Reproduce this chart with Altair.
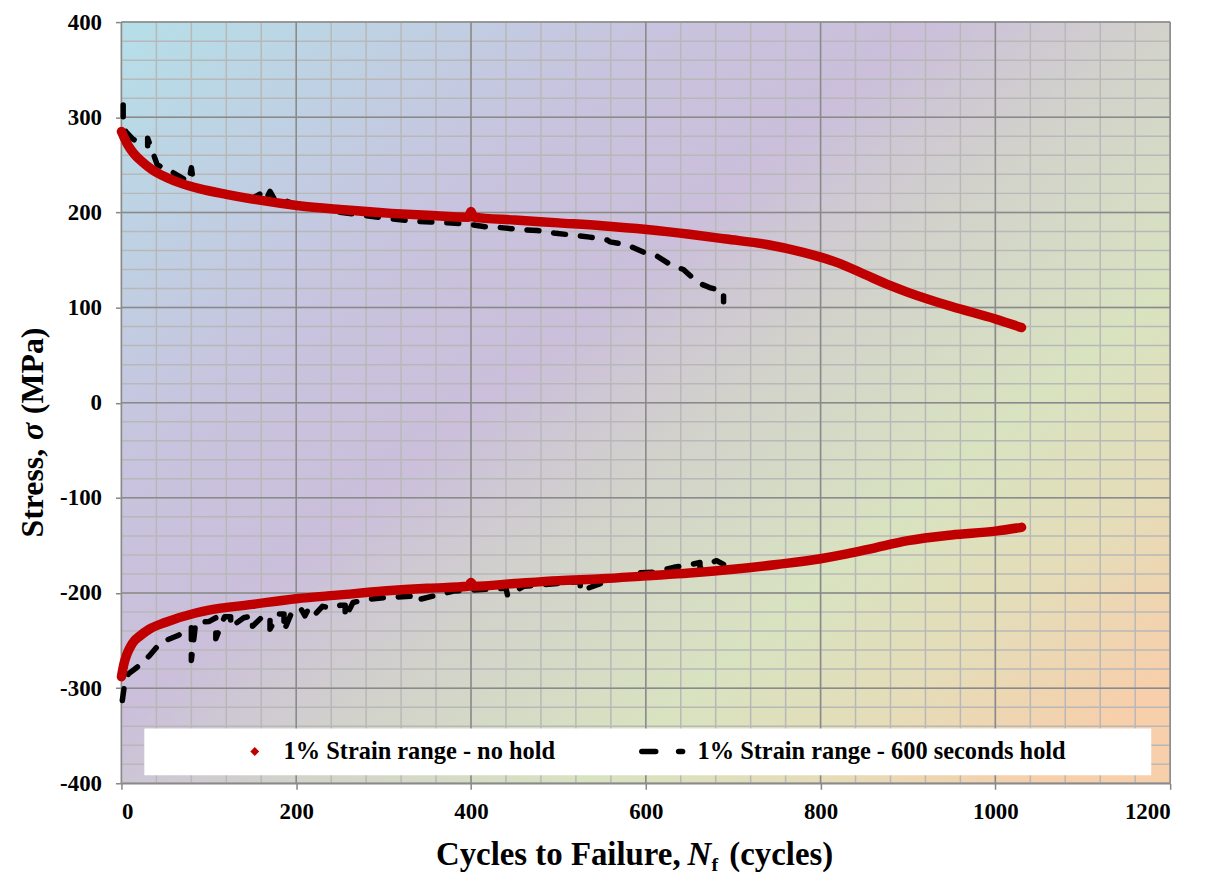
import altair as alt
import pandas as pd

# ---------------- data ----------------
red_up_x = [0, 3, 6, 10, 15, 24, 35, 51, 70, 89, 120, 150, 203, 250, 309, 350, 397, 400, 403, 450, 500, 550, 601, 650, 692, 740, 780, 800, 820, 850, 880, 900, 950, 1000, 1030]
red_up_y = [285, 279, 273, 267, 261, 253, 245, 237, 230, 225, 219, 214, 207, 203, 199, 197, 195, 201, 195, 192, 189, 186, 182, 177, 172, 166, 158, 153, 147, 135, 123, 116, 101, 88, 79]

red_lo_x = [0, 3, 6, 10, 15, 20, 32, 50, 85, 100, 150, 200, 250, 300, 350, 397, 400, 403, 450, 500, 550, 600, 650, 700, 750, 800, 830, 860, 900, 950, 1000, 1030]
red_lo_y = [-288, -274, -265, -257, -250, -246, -238, -231, -221, -218, -212, -206, -202, -198, -195, -193, -189, -193, -190, -187, -185, -182, -179, -175, -170, -164, -159, -153, -145, -139, -135, -131]

blk_up_x = [2, 2, 5, 13, 22, 30, 30, 41, 57, 77, 80, 83, 100, 130, 150, 160, 165, 170, 175, 180, 200, 250, 294, 331, 354, 373, 394, 416, 434, 455, 476, 497, 518, 536, 556, 559, 578, 598, 613, 630, 643, 660, 673, 689, 689]
blk_up_y = [313, 295, 285, 277, 273, 270, 278, 250, 243, 232, 247, 228, 221, 217, 215, 220, 213, 222, 214, 215, 208, 200, 195, 191, 190, 189, 188, 185, 184, 182, 181, 178, 176, 174, 171, 169, 166, 158, 154, 144, 140, 126, 121, 117, 106]

blk_lo_x = [1, 3, 8, 18, 25, 32, 45, 64, 78, 80, 80, 85, 100, 108, 108, 118, 125, 125, 140, 150, 150, 160, 170, 170, 180, 186, 186, 195, 205, 210, 215, 222, 230, 240, 250, 256, 256, 265, 280, 300, 340, 340, 380, 420, 440, 442, 460, 500, 525, 525, 560, 590, 609, 632, 647, 662, 662, 681, 689]
blk_lo_y = [-313, -300, -285, -278, -272, -266, -252, -245, -238, -236, -271, -231, -230, -226, -248, -225, -225, -236, -226, -224, -235, -226, -224, -238, -222, -222, -240, -220, -216, -224, -215, -222, -214, -216, -213, -213, -226, -210, -207, -205, -203, -207, -198, -196, -195, -203, -193, -190, -188, -198, -186, -179, -178, -173, -171, -168, -173, -166, -170]

x_major = [0, 200, 400, 600, 800, 1000, 1200]
y_major = [-400, -300, -200, -100, 0, 100, 200, 300, 400]
x_minor = list(range(0, 1201, 40))
y_minor = list(range(-400, 401, 20))

legend_labels = ["1% Strain range - no hold", "1% Strain range - 600 seconds hold"]

# ---------------- layout / style ----------------
W, H = 1054, 765
FONT = "Liberation Serif"
RED = "#C00000"


def part(x, y, name):
    return pd.DataFrame({"x": x, "y": y, "part": name, "i": list(range(len(x)))})


red_df = pd.concat([part(red_up_x, red_up_y, "up"), part(red_lo_x, red_lo_y, "lo")])
blk_df = pd.concat([part(blk_up_x, blk_up_y, "up"), part(blk_lo_x, blk_lo_y, "lo")])
one = pd.DataFrame({"a": [0]})

xs = alt.Scale(domain=[0, 1200], nice=False, zero=False)
ys = alt.Scale(domain=[-400, 400], nice=False, zero=False)
AX = alt.Axis(values=x_major, grid=False, title=None, domainColor="#868686", domainWidth=1.5,
              tickColor="#868686", tickSize=6, tickWidth=1.5, labelFont=FONT, labelFontSize=23,
              labelFontWeight="bold", labelColor="black", labelPadding=11,
              labelExpr="'' + datum.value")
AY = alt.Axis(values=y_major, grid=False, title=None, domainColor="#868686", domainWidth=1.5,
              tickColor="#868686", tickSize=6, tickWidth=1.5, labelFont=FONT, labelFontSize=23,
              labelFontWeight="bold", labelColor="black", labelPadding=14,
              labelExpr="'' + datum.value")

bg = alt.Chart(one).mark_rect(
    fill=alt.LinearGradient(
        gradient="linear", x1=0, y1=0, x2=1, y2=0.85,
        stops=[
            alt.GradientStop(color="#b5dfe9", offset=0.0),
            alt.GradientStop(color="#c8c3de", offset=0.3),
            alt.GradientStop(color="#cbbfdb", offset=0.45),
            alt.GradientStop(color="#d2d2cb", offset=0.58),
            alt.GradientStop(color="#d8e3c0", offset=0.75),
            alt.GradientStop(color="#e6dcb8", offset=0.88),
            alt.GradientStop(color="#f7cfab", offset=1.0),
        ],
    )
).encode(x=alt.value(0), x2=alt.value(W), y=alt.value(0), y2=alt.value(H))

gx_min = alt.Chart(pd.DataFrame({"v": x_minor})).mark_rule(color="#b8b8b8", strokeWidth=1.5).encode(
    x=alt.X("v:Q", scale=xs, axis=AX))
gy_min = alt.Chart(pd.DataFrame({"v": y_minor})).mark_rule(color="#b8b8b8", strokeWidth=1.5).encode(
    y=alt.Y("v:Q", scale=ys, axis=AY))
gx_maj = alt.Chart(pd.DataFrame({"v": x_major})).mark_rule(color="#8a8a8a", strokeWidth=1.5).encode(
    x=alt.X("v:Q", scale=xs, axis=AX))
gy_maj = alt.Chart(pd.DataFrame({"v": y_major})).mark_rule(color="#8a8a8a", strokeWidth=1.5).encode(
    y=alt.Y("v:Q", scale=ys, axis=AY))

blk = alt.Chart(blk_df).mark_line(color="black", strokeWidth=5.5, strokeDash=[12, 15], strokeCap="round",
                                  strokeJoin="round").encode(
    x=alt.X("x:Q", scale=xs, axis=AX), y=alt.Y("y:Q", scale=ys, axis=AY),
    detail="part:N", order="i:Q")
red = alt.Chart(red_df).mark_line(color=RED, strokeWidth=9.5, strokeCap="round", strokeJoin="round",
                                  interpolate="monotone").encode(
    x=alt.X("x:Q", scale=xs, axis=AX), y=alt.Y("y:Q", scale=ys, axis=AY),
    detail="part:N", order="i:Q")


def txt(s, x, y, size, align="left", style="normal", angle=0):
    return alt.Chart(one).mark_text(text=s, fontSize=size, font=FONT, fontWeight="bold", fontStyle=style,
                                    color="black", align=align, baseline="alphabetic", angle=angle).encode(
        x=alt.value(x), y=alt.value(y))


leg_box = alt.Chart(one).mark_rect(fill="white").encode(
    x=alt.value(23), x2=alt.value(1035), y=alt.value(710), y2=alt.value(757))
leg_pt = alt.Chart(one).mark_point(shape="diamond", filled=True, color=RED, size=80, opacity=1).encode(
    x=alt.value(134), y=alt.value(733))
leg_d1 = alt.Chart(one).mark_rule(color="black", strokeWidth=5.5, strokeCap="round").encode(
    x=alt.value(523), x2=alt.value(537), y=alt.value(733))
leg_d2 = alt.Chart(one).mark_rule(color="black", strokeWidth=5.5, strokeCap="round").encode(
    x=alt.value(560), x2=alt.value(564), y=alt.value(733))
leg_t1 = txt(legend_labels[0], 163, 741, 24.5)
leg_t2 = txt(legend_labels[1], 579, 741, 24.5)

xt1 = txt("Cycles to Failure,", 562, 847, 33, align="right")
xt2 = txt("N", 569, 847, 33, style="italic")
xt3 = txt("f", 593, 853, 20)
xt4 = txt("(cycles)", 611, 847, 33)

yt1 = txt("Stress,", -79, 518, 32, angle=270)
yt2 = txt("σ", -79, 420, 32, style="italic", angle=270)
yt3 = txt("(MPa)", -79, 394, 32, angle=270)

chart = alt.layer(
    bg, gx_min, gy_min, gx_maj, gy_maj, blk, red,
    leg_box, leg_pt, leg_d1, leg_d2, leg_t1, leg_t2,
    xt1, xt2, xt3, xt4, yt1, yt2, yt3,
).properties(
    width=W, height=H, autosize="none",
    padding={"left": 114, "top": 12, "right": 30, "bottom": 90},
    background="white",
).configure_view(stroke=None)

chart.save("out.html", embed_options={"renderer": "svg", "actions": False})
